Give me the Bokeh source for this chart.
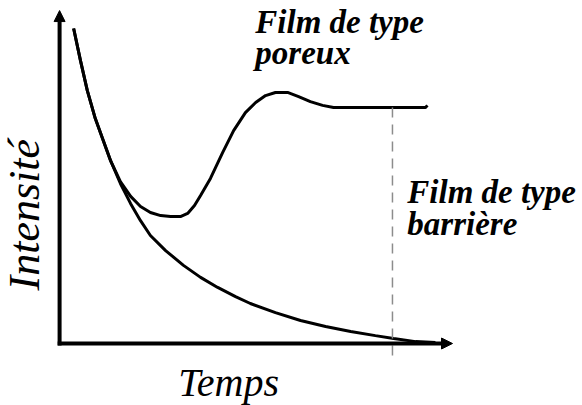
from bokeh.plotting import figure
from bokeh.models import Range1d, Arrow, NormalHead, Label
from bokeh.embed import file_html
from bokeh.resources import INLINE

# Data (time in arbitrary units, intensity in arbitrary units)
time_barrier = [0.32, 0.50, 0.68, 0.89, 1.08, 1.29, 1.55, 1.82, 2.08, 2.34, 2.74, 3.21,
                3.66, 4.11, 4.58, 4.97, 5.63, 6.29, 6.95, 7.61, 8.26, 8.74, 9.32, 9.84]
intensity_barrier = [10.0, 8.98, 8.03, 7.14, 6.51, 5.81, 5.08, 4.44, 3.90, 3.43, 2.95, 2.48,
                     2.10, 1.78, 1.49, 1.27, 0.98, 0.73, 0.54, 0.38, 0.25, 0.16, 0.06, 0.03]

time_porous = [0.32, 0.50, 0.68, 0.89, 1.08, 1.29, 1.55, 1.82, 2.08, 2.34, 2.61, 2.87, 3.13,
               3.32, 3.50, 3.66, 3.92, 4.24, 4.53, 4.84, 5.11, 5.37, 5.63, 5.95, 6.24, 6.55,
               6.87, 7.16, 9.58, 9.63]
intensity_porous = [10.0, 8.98, 8.03, 7.14, 6.51, 5.81, 5.14, 4.67, 4.35, 4.16, 4.06, 4.03, 4.03,
                    4.13, 4.38, 4.70, 5.24, 6.06, 6.76, 7.33, 7.65, 7.87, 7.97, 7.97, 7.84, 7.68,
                    7.56, 7.49, 7.49, 7.56]

marker_time = [8.71, 8.71]
marker_intensity = [7.49, -0.60]

label_porous = ["Film de type", "poreux"]
label_barrier = ["Film de type", "barrière"]
x_title = "Temps"
y_title = "Intensité"

p = figure(width=582, height=405, output_backend="svg", toolbar_location=None,
           x_range=Range1d(-1.605, 13.711), y_range=Range1d(-1.968, 10.889),
           x_axis_type=None, y_axis_type=None, min_border=0)
p.grid.visible = False
p.outline_line_color = None
p.background_fill_color = "white"

# Curves
p.line(time_barrier, intensity_barrier, line_color="black", line_width=3)
p.line(time_porous, intensity_porous, line_color="black", line_width=3)

# Dashed marker
p.line(marker_time, marker_intensity, line_color="#8c8c8c", line_width=1.5, line_dash="10 7")

# Axes with arrows
head_style = dict(size=11, fill_color="black", line_color="black")
p.add_layout(Arrow(end=NormalHead(**head_style), x_start=-0.05, y_start=-0.06,
                   x_end=-0.05, y_end=10.57, line_width=4, line_color="black"))
p.add_layout(Arrow(end=NormalHead(**head_style), x_start=-0.1, y_start=0.0,
                   x_end=10.29, y_end=0.0, line_width=4, line_color="black"))

font = "Liberation Serif"
lab_size = "33px"
common = dict(text_font=font, text_color="black", text_baseline="alphabetic")
p.add_layout(Label(x=5.10, y=10.22, text=label_porous[0], text_font_style="bold italic",
                   text_font_size=lab_size, **common))
p.add_layout(Label(x=5.10, y=9.21, text=label_porous[1], text_font_style="bold italic",
                   text_font_size=lab_size, **common))
p.add_layout(Label(x=9.10, y=4.82, text=label_barrier[0], text_font_style="bold italic",
                   text_font_size=lab_size, **common))
p.add_layout(Label(x=9.10, y=3.80, text=label_barrier[1], text_font_style="bold italic",
                   text_font_size=lab_size, **common))

p.add_layout(Label(x=4.40, y=-1.24, text=x_title, text_font_style="italic",
                   text_font_size="40px", text_align="center", **common))
p.add_layout(Label(x=-0.98, y=4.09, text=y_title, text_font_style="italic",
                   text_font_size="44px", text_align="center", angle=1.5708, **common))

open("out.html", "w").write(file_html(p, INLINE))
